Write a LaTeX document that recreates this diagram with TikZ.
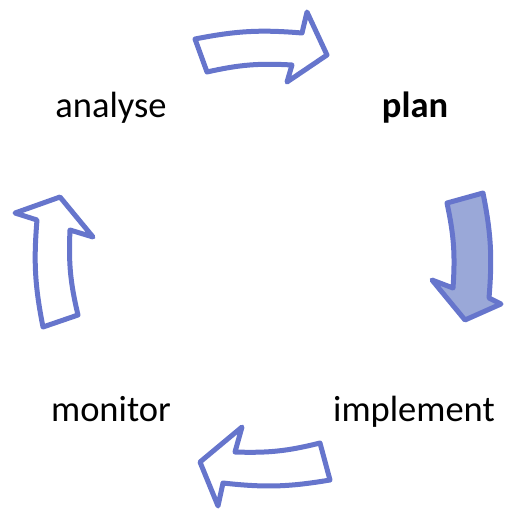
\documentclass[tikz,border=0pt]{standalone}
\usepackage{fontspec}
\setmainfont{Carlito}
\definecolor{edgeblue}{RGB}{102,117,204}
\definecolor{fillblue}{RGB}{154,168,216}
\begin{document}
\begin{tikzpicture}[x=1pt,y=-1pt,
  cyclearrow/.style={draw=edgeblue,line width=5pt,line join=round,fill=white},
  activearrow/.style={cyclearrow,fill=fillblue},
  phase/.style={font=\fontsize{36.5}{40}\selectfont,anchor=base,inner sep=0pt}]
\useasboundingbox (0,0) rectangle (507,509);

% top: analyse -> plan
\path[cyclearrow] (195,39) to[bend left=8] (302,33) -- (307,12) -- (327,55)
  -- (287,82) -- (292,65) to[bend right=8] (207,72) -- cycle;
% right: plan -> implement (highlighted)
\path[activearrow] (447,203) -- (483,193) to[bend left=8] (489,298) -- (501,304)
  -- (465,320) -- (432,280) -- (453,288) to[bend right=8] (447,203) -- cycle;
% bottom: implement -> monitor
\path[cyclearrow] (320,443) to[bend left=8] (235,452) -- (242,427) -- (200,462)
  -- (218,506) -- (223,483) to[bend right=8] (330,480) -- cycle;
% left: monitor -> analyse
\path[cyclearrow] (43,327) -- (78,315) to[bend left=8] (70,230) -- (93,237)
  -- (60,197) -- (15,213) -- (37,220) to[bend right=8] (43,327) -- cycle;

\node[phase] (analyse) at (111,117) {analyse};
\node[phase] (plan) at (415,117) {\bfseries plan};
\node[phase] (implement) at (414,421) {implement};
\node[phase] (monitor) at (111,421) {monitor};
\end{tikzpicture}
\end{document}
